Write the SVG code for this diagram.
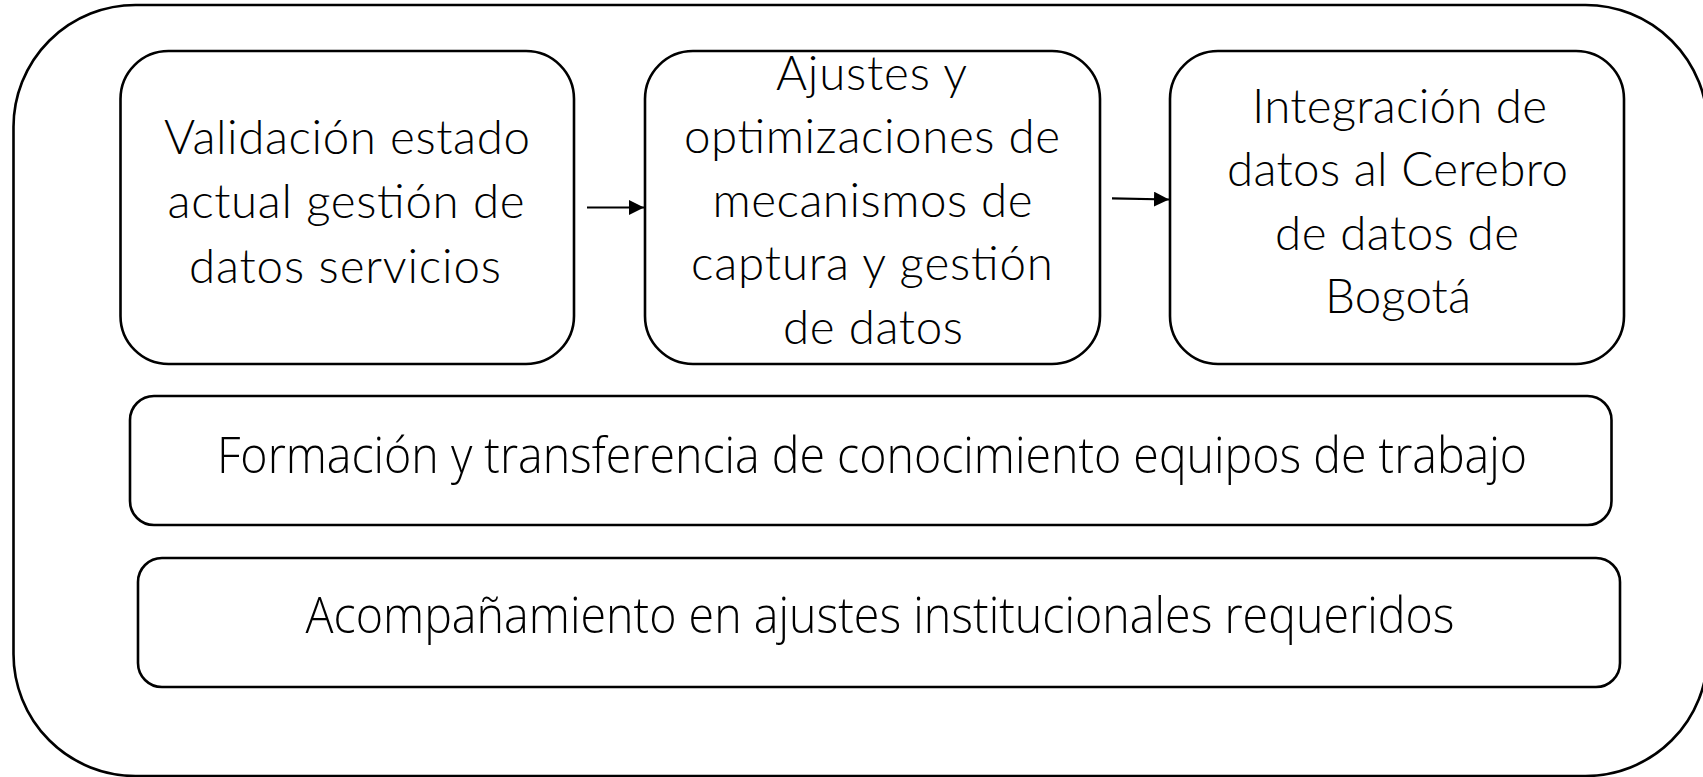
<svg xmlns="http://www.w3.org/2000/svg" width="1703" height="777" viewBox="0 0 1703 777">
<defs>
<style>
.box{fill:#fff;stroke:#000;stroke-width:2.6}
.t{font-family:Lato,"Open Sans","Liberation Sans",sans-serif;font-weight:300;font-size:47.5px;fill:#000;text-anchor:middle}
.b{font-family:"Open Sans",Lato,"Liberation Sans",sans-serif;font-weight:300;font-size:50px;fill:#000;text-anchor:middle}
.c{stroke:#000;stroke-width:2.2;fill:none}
</style>
<marker id="ah" viewBox="0 0 10 10" refX="10" refY="5" markerWidth="15" markerHeight="15" markerUnits="userSpaceOnUse" orient="auto">
<path d="M0,0 L10,5 L0,10 z" fill="#000"/>
</marker>
</defs>
<g id="outer"><rect x="13.5" y="5" width="1694" height="771" rx="122" ry="122" class="box"/></g>
<g id="n1">
<rect x="120.5" y="51" width="453.5" height="313" rx="48" class="box"/>
<text class="t" x="347" y="154" textLength="366" lengthAdjust="spacing">Validación estado</text>
<text class="t" x="346" y="218.3" textLength="357" lengthAdjust="spacing">actual gestión de</text>
<text class="t" x="345" y="282.7" textLength="312" lengthAdjust="spacing">datos servicios</text>
</g>
<g id="n2">
<rect x="645" y="51" width="455" height="313" rx="48" class="box"/>
<text class="t" x="871.5" y="89.5" textLength="191" lengthAdjust="spacing">Ajustes y</text>
<text class="t" x="872" y="153" textLength="376" lengthAdjust="spacing">optimizaciones de</text>
<text class="t" x="872.5" y="216.5" textLength="320" lengthAdjust="spacing">mecanismos de</text>
<text class="t" x="872" y="280" textLength="362" lengthAdjust="spacing">captura y gestión</text>
<text class="t" x="873" y="343.5" textLength="180" lengthAdjust="spacing">de datos</text>
</g>
<g id="n3">
<rect x="1170" y="51" width="454" height="313" rx="48" class="box"/>
<text class="t" x="1399.5" y="122.7" textLength="295" lengthAdjust="spacing">Integración de</text>
<text class="t" x="1397.5" y="186" textLength="341" lengthAdjust="spacing">datos al Cerebro</text>
<text class="t" x="1397" y="249.5" textLength="244" lengthAdjust="spacing">de datos de</text>
<text class="t" x="1398" y="313" textLength="146" lengthAdjust="spacing">Bogotá</text>
</g>
<g id="n4">
<rect x="130" y="396" width="1481.5" height="129" rx="24" class="box"/>
<text class="b" x="872" y="472.7" textLength="1310" lengthAdjust="spacingAndGlyphs">Formación y transferencia de conocimiento equipos de trabajo</text>
</g>
<g id="n5">
<rect x="138" y="558" width="1482" height="129" rx="24" class="box"/>
<text class="b" x="880" y="633.3" textLength="1149" lengthAdjust="spacingAndGlyphs">Acompañamiento en ajustes institucionales requeridos</text>
</g>
<g id="connectors">
<line class="c" x1="587" y1="207.5" x2="644" y2="207.5" marker-end="url(#ah)"/>
<line class="c" x1="1112" y1="198.3" x2="1169" y2="199.5" marker-end="url(#ah)"/>
</g>
</svg>
